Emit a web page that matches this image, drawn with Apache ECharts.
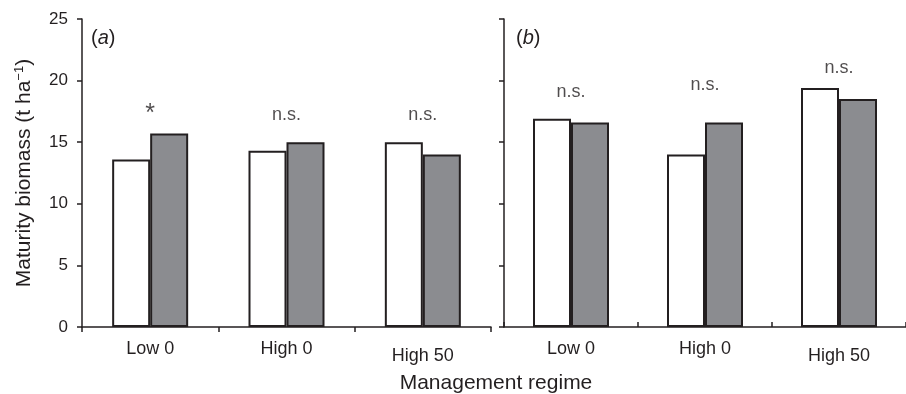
<!DOCTYPE html>
<html><head><meta charset="utf-8">
<script src="https://cdn.jsdelivr.net/npm/echarts@6/dist/echarts.min.js"></script>
<style>html,body{margin:0;padding:0;background:#fff}#c{width:906px;height:394px}</style>
</head><body><div id="c"></div>
<script>
const categories = ['Low 0', 'High 0', 'High 50'];
const panelAWhite = [13.6, 14.3, 15.0];
const panelAGrey = [15.7, 15.0, 14.0];
const panelBWhite = [16.9, 14.0, 19.4];
const panelBGrey = [16.6, 16.6, 18.5];
const annotA = ['*', 'n.s.', 'n.s.'];
const annotALevel = [17.3, 17.2, 17.2];
const annotB = ['n.s.', 'n.s.', 'n.s.'];
const annotBLevel = [19.1, 19.6, 21.0];
const yTicks = [0, 5, 10, 15, 20, 25];

const INK = '#231f20';
const GREY = '#8b8c90';
const FONT = '"Liberation Sans", Arial, Helvetica, sans-serif';

const chart = echarts.init(document.getElementById('c'), null, {renderer: 'canvas'});

function xAxis(idx, inside) {
  return {
    type: 'category', gridIndex: idx, data: categories,
    axisLine: {lineStyle: {color: INK, width: 1.5}},
    axisTick: {show: true, inside: inside, length: 5, lineStyle: {color: INK, width: 1.5}},
    axisLabel: {
      color: INK, fontFamily: FONT, fontSize: 18, margin: 13,
      formatter: v => v === 'High 50' ? '{lo|' + v + '}' : v,
      rich: {lo: {color: INK, fontFamily: FONT, fontSize: 18, padding: [7, 0, 0, 0]}}
    }
  };
}
function yAxis(idx, showLabels) {
  const ax = {
    type: 'value', gridIndex: idx, min: yTicks[0], max: yTicks[yTicks.length - 1], interval: 5,
    splitLine: {show: false},
    axisLine: {show: true, lineStyle: {color: INK, width: 1.5}},
    axisTick: {show: true, length: 5, lineStyle: {color: INK, width: 1.5}},
    axisLabel: {show: showLabels, color: INK, fontFamily: FONT, fontSize: 17, margin: 14}
  };
  if (showLabels) {
    ax.name = 'Maturity biomass (t ha{sup|−1})';
    ax.nameLocation = 'middle';
    ax.nameGap = 46;
    ax.nameRotate = 90;
    ax.nameTextStyle = {
      color: INK, fontFamily: FONT, fontSize: 21,
      rich: {sup: {color: INK, fontFamily: FONT, fontSize: 13, verticalAlign: 'top', padding: [0, 0, 10, 0]}}
    };
  }
  return ax;
}
function bar(idx, data, color) {
  return {
    type: 'bar', xAxisIndex: idx, yAxisIndex: idx, data: data,
    barWidth: 38, barGap: '0%',
    itemStyle: {color: color, borderColor: INK, borderWidth: 2},
    silent: true
  };
}
function annot(idx, texts, levels) {
  return {
    type: 'scatter', xAxisIndex: idx, yAxisIndex: idx, symbolSize: 0,
    data: levels.map((v, i) => [i, v]),
    label: {
      show: true, position: 'inside', color: INK, fontFamily: FONT, fontSize: 18,
      formatter: p => texts[p.dataIndex] === '*' ? '{star|*}' : texts[p.dataIndex],
      rich: {star: {color: INK, fontFamily: FONT, fontSize: 25}}
    },
    silent: true
  };
}

chart.setOption({
  animation: false,
  backgroundColor: '#fff',
  grid: [
    {left: 82, top: 19, width: 409, height: 308},
    {left: 504, top: 19, width: 408, height: 308}
  ],
  xAxis: [xAxis(0, false), xAxis(1, true)],
  yAxis: [yAxis(0, true), yAxis(1, false)],
  series: [
    bar(0, panelAWhite, '#ffffff'), bar(0, panelAGrey, GREY),
    bar(1, panelBWhite, '#ffffff'), bar(1, panelBGrey, GREY),
    annot(0, annotA, annotALevel), annot(1, annotB, annotBLevel)
  ],
  graphic: [
    {type: 'text', left: 91, top: 28, style: {text: '({i|a})', fill: INK, font: '20px ' + FONT,
      rich: {i: {fontStyle: 'italic', fontSize: 20, fontFamily: FONT, fill: INK}}}},
    {type: 'text', left: 516, top: 28, style: {text: '({i|b})', fill: INK, font: '20px ' + FONT,
      rich: {i: {fontStyle: 'italic', fontSize: 20, fontFamily: FONT, fill: INK}}}},
    {type: 'text', x: 496, y: 383, style: {text: 'Management regime', fill: INK, font: '21px ' + FONT,
      textAlign: 'center', textVerticalAlign: 'middle'}}
  ]
});
</script></body></html>
